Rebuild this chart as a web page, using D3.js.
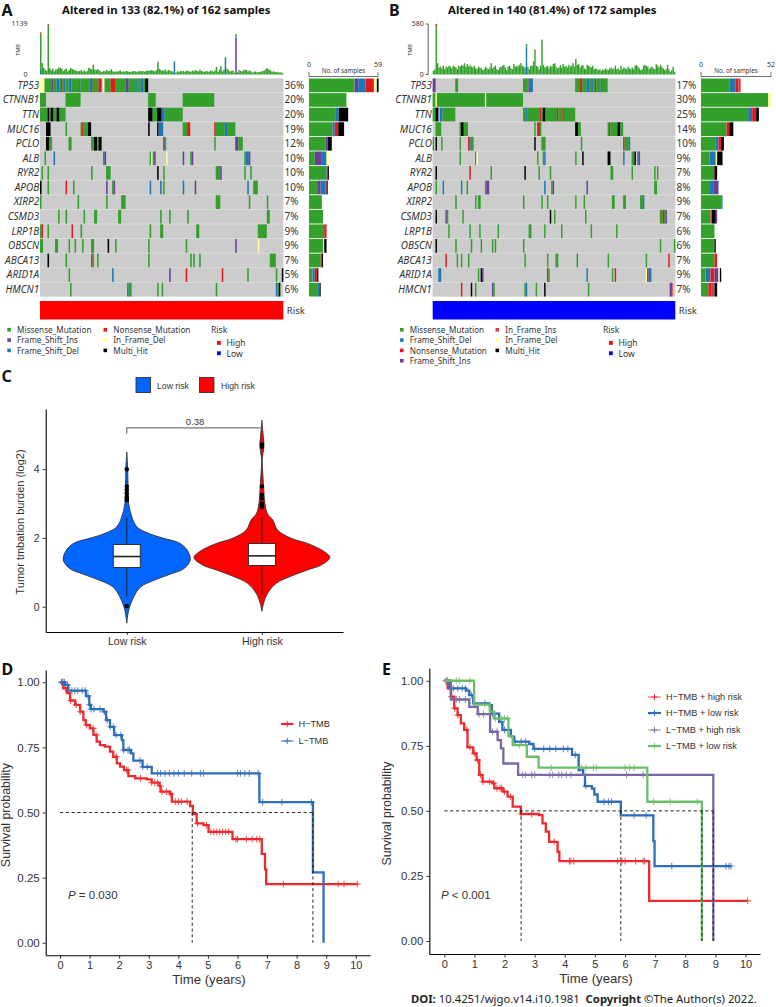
<!DOCTYPE html>
<html>
<head>
<meta charset="utf-8">
<script src="https://cdn.jsdelivr.net/npm/d3@7"></script>
<style>
html,body{margin:0;padding:0;background:#fff;}
svg{display:block;}
text{font-family:"Noto Sans",sans-serif;fill:#333;}
.ar text,text.ar{font-family:"Liberation Sans",Arial,sans-serif;}
</style>
</head>
<body>
<svg id="fig" width="776" height="1007"></svg>
<script>
var genes = ["TP53","CTNNB1","TTN","MUC16","PCLO","ALB","RYR2","APOB","XIRP2","CSMD3","LRP1B","OBSCN","ABCA13","ARID1A","HMCN1"];

// M missense, N nonsense, I frame shift ins, D frame shift del, S in frame ins, F in frame del, H multi hit
var mutColors = {M:"#33A02C",N:"#E31A1C",I:"#6A3D9A",D:"#1F78B4",S:"#D53E4F",F:"#FFFF99",H:"#000000"};

var pctA = ["36%","20%","20%","19%","12%","10%","10%","10%","7%","7%","9%","9%","7%","5%","6%"];
var pctB = ["17%","30%","25%","14%","10%","9%","7%","8%","9%","7%","6%","6%","7%","9%","7%"];

// token = type + first sample, optional -end (exclusive)
var cellsA = [
 "F0-3 M3-8 I8 M9-11 D11-13 M13 N14 M15 D16 M17-19 D19-21 M21-26 D26 M27-33 D33 N34 M35-39 N39-41 F42 M43-47 N47-50 M50-57 I57-59 M59-64 D64 M65-67 D67-69 M69 H70-72",
 "M0-4 M17-27 M72-77 M95-116",
 "M0-5 H5 M6 H7-9 M9-11 H11-13 M13-17 H72-75 M75-78 H78-81 D81-83 M83-95",
 "H4-7 M17 M27 N28 M29-32 H32-34 H72 H78 D79-82 M95-98 N98-100 N116 M117-123 D123-125 M125-130",
 "H4-6 M6-8 M19-21 M34-36 H36-38 M38 H39-41 I82 M83 M116 I130-132 M132-135",
 "M3 D9 D42 I43 M73 F74 M75 I76 F84 I95 M100 I101 M136 D137-139 I139",
 "M1 M5 M34 M44-47 H78 M82 M117-120 I120 M136 M140",
 "H0 M5 N17 M22 I44 M48 I49 D73 D80 M82 D95 I103 D138 M142-145",
 "M0 M25 M44 M54-57 M117-120 M139 M151",
 "M12 M17 M29 M36-38 M52-54 M80 M86 M98 M151-153",
 "M0 N1-2 M5 N21 M27 M73 M80-82 M104-106 M145-151",
 "M0-2 M10-12 M19 M23 M28 M34-36 H45 M50 M72 M97 I130 F145",
 "H5 M17 N34 M35 M38 M72 M100 M102 M106 M153-157",
 "M19 D48 I86 N97 N121 M138 M157 H161",
 "M20 D58 M59-61 M78 M81 M117 D157 M158 H159"
];
var cellsB = [
 "I0-2 M16-18 M64-67 S67 D68-71 M101-104 N104-106 M106-109 D109-111 M111-113 D113 M114 N115 M116-119 D119 M120-124",
 "M0-2 F2 M3-37 F37 M38-64",
 "M0-2 H2-4 D5-7 M7-16 M64-66 D66 M67-76 N76 M77 H78-80 M80-88 N88 M89-92 N92 M93-101",
 "M2-6 M19 H20-22 M22-25 M72 N74-76 M76 H101-103 M103-105 M124 N125 M126-131 H131-133 M133-135",
 "M0 H2 M6 M19 N25 D26 M27-29 H72 M77-80 M105 N135 M136-139 D139",
 "M19 M30 F31 M74 M78 D79 M101 H106 H124-126 D135 M141-143 H143 D145 I146-147",
 "H2 N26 M41 H65 M75 M83 M126-128 M141 M157 M159",
 "M2 D7 D20 M24 M37 I38-40 D79 M84 I85 I109 M157-159",
 "M16 M30 M32-34 M64 M77 M81 M101 M107 M127-129 M135-137 M147-149 D149",
 "H2 I9 M10 M21 H83 M86 M108 M161-163 N163 M164 I165-166",
 "M11 M26 M33 M46 M68-70 M79 M91 M112 M130",
 "H2 M16 M27 M34 M42 M44 M64 M161 M171",
 "N9 M17 M20 M25 M65 M81 M87-89 M102 M124 M151 N167",
 "D4-6 M32 H34 I35 N81 M82 D109 M127 N129 F151 N152 D153-155",
 "N20 H27 M30 I42 M43 M65 D66 M73 H79 M110 I168 N169"
];

// samples per type for the right hand bars
var sideA = ["M39 I3 D6.5 N7 F2.5 H1.5","M32","M23 D2.5 H8","M20 D2 N3 H5","M14 I2 H3.5","M5 I6 D4 F2","M15 I1 H1","M7 I3 D4 N1 H1","M11","M12","M13 N2","M12 F1 H2","M10 N1 H1","M3 D2 N2 H1","M7 D2 H1"];
var sideB = ["M21 D4.5 N2.5 S1.5","M50 F2","M35 D3 N3 H2","M19 N2 H3","M11 D2 N2 H2","M6.5 D4.5 F1 H4","M9 N1 H2","M6 D3 I4","M15 D1","M7 S1 H3 I1","M10","M10 H1","M10 N2","M3.5 D3.5 N3 I3 F1 H1","M5.5 N2.5 S2 H2"];

var tmbA = [950,260,150,110,80,1139,140,90,130,70,
 110,120,160,150,130,80,110,130,70,100,
 150,120,110,90,80,70,80,100,70,90,
 60,80,150,130,120,220,110,100,120,90,
 70,60,80,70,100,70,80,120,70,60,
 70,60,80,90,60,70,60,80,70,60,
 60,70,80,70,60,70,80,70,80,60,
 80,90,80,90,100,80,70,100,290,130,
 100,90,90,110,70,100,90,80,60,300,
 40,70,60,80,70,80,60,90,80,70,
 60,90,70,100,80,70,110,80,70,60,
 80,70,60,90,80,60,90,170,60,110,
 190,70,110,390,130,100,70,80,90,40,
 910,50,100,80,70,90,110,100,70,90,
 70,40,60,70,50,50,60,70,80,90,
 130,140,110,90,60,70,60,50,60,40,
 50,30];
var tmbBaseA = [[0,"D",130],[89,"D",280],[123,"D",350],[130,"I",830]];
var tmbTipA = [[0,"N",30],[1,"N",12],[5,"N",30],[35,"N",25],[78,"N",20]];

var tmbB = [40,60,580,130,80,90,70,100,60,90,
 80,100,90,70,100,90,80,60,100,90,
 110,100,130,90,120,90,110,90,80,100,
 70,60,90,80,70,50,60,90,70,60,
 80,130,70,90,100,60,50,80,90,100,
 110,80,50,90,100,70,60,120,90,100,
 90,110,130,100,90,80,350,90,60,100,
 100,150,285,100,90,60,100,400,110,80,
 90,100,70,100,90,120,130,90,70,80,
 110,80,120,90,100,80,110,90,100,130,
 90,180,110,120,80,100,110,70,60,110,
 100,90,80,100,60,70,60,50,60,40,
 60,50,70,60,50,70,80,60,70,100,
 60,70,50,100,60,80,70,60,90,70,
 60,80,60,100,110,90,70,50,60,100,
 110,100,90,60,80,90,70,60,120,100,
 80,110,90,70,50,60,110,60,30,50,
 90,30];
var tmbBaseB = [[66,"D",320],[77,"D",30]];
var tmbTipB = [[2,"N",25],[23,"N",8],[41,"N",8],[71,"N",10],[72,"N",14],[77,"N",8],[101,"N",8],[144,"N",6],[158,"N",6]];

var legendA = [["M","Missense_Mutation"],["I","Frame_Shift_Ins"],["D","Frame_Shift_Del"],["N","Nonsense_Mutation"],["F","In_Frame_Del"],["H","Multi_Hit"]];
var legendB = [["M","Missense_Mutation"],["D","Frame_Shift_Del"],["N","Nonsense_Mutation"],["I","Frame_Shift_Ins"],["S","In_Frame_Ins"],["F","In_Frame_Del"],["H","Multi_Hit"]];

// panel C, [value, density]
var violinLow = [[-0.48,0],[-0.1,0.03],[0.29,0.11],[0.58,0.22],[0.77,0.43],[0.95,0.69],[1.11,0.9],[1.36,1],[1.65,0.95],[1.86,0.82],[1.99,0.58],[2.15,0.32],[2.32,0.16],[2.61,0.08],[3,0.03],[3.49,0.02],[3.97,0.015],[4.5,0]];
var violinHigh = [[-0.13,0],[0.1,0.025],[0.39,0.084],[0.68,0.21],[0.89,0.43],[1.07,0.67],[1.21,0.87],[1.43,1],[1.6,0.92],[1.84,0.67],[1.99,0.43],[2.23,0.23],[2.52,0.16],[2.71,0.08],[3,0.044],[3.49,0.025],[3.97,0.01],[4.26,0.004],[4.7,0.03],[4.94,0.02],[5.42,0]];
var boxLow = {lo:0.3,q1:1.14,med:1.46,q3:1.81,hi:2.6};
var boxHigh = {lo:0.34,q1:1.2,med:1.48,q3:1.84,hi:2.6};
var outLow = [4,3.5,3.4,3.3,3.2,3.15,3.1,0.02];
var outHigh = [4.72,4.65,3.5,3.25,3.15,3,2.95,2.9];
var riskCats = ["Low risk","High risk"];

// panel D and E, [time, survival]
var dHigh = [[0,1],[0.11,0.977],[0.23,0.958],[0.34,0.93],[0.51,0.913],[0.68,0.887],[0.79,0.855],[0.87,0.836],[1.01,0.823],[1.13,0.798],[1.24,0.772],[1.35,0.759],[1.52,0.753],[1.69,0.734],[1.8,0.714],[1.92,0.689],[2.03,0.676],[2.16,0.663],[2.31,0.64],[2.54,0.631],[2.93,0.627],[3.1,0.615],[3.36,0.602],[3.4,0.58],[3.72,0.571],[3.78,0.542],[4.4,0.525],[4.49,0.494],[4.62,0.458],[4.85,0.452],[5.02,0.426],[5.83,0.398],[6.82,0.341],[6.93,0.282],[6.97,0.225],[10.05,0.225]];
var dLow = [[0,1],[0.17,0.99],[0.28,0.968],[0.88,0.947],[0.99,0.913],[1.04,0.897],[1.47,0.887],[1.56,0.855],[1.69,0.829],[1.83,0.797],[2.09,0.778],[2.14,0.74],[2.4,0.727],[2.48,0.699],[2.79,0.675],[3.1,0.65],[6.74,0.54],[8.55,0.27],[8.91,0],[8.91,0]];
var dHighCens = [0.07,0.18,0.36,0.55,0.68,0.9,1.12,1.22,1.9,2.25,2.3,2.72,3.1,3.2,3.3,3.38,3.45,3.6,3.75,3.9,4,4.1,4.3,4.65,4.95,5.1,5.2,5.3,5.4,5.5,5.6,5.7,5.95,6,6.3,6.5,6.65,6.75,7.55,9.4,9.6,10.05];
var dLowCens = [0.05,0.1,0.15,0.25,0.4,0.5,0.6,0.75,0.85,0.95,1,1.05,1.15,1.35,1.5,1.6,1.7,1.8,1.9,2.05,2.15,2.3,2.35,2.7,2.8,2.95,3.3,3.4,3.55,3.7,3.85,4,4.2,4.45,4.75,4.85,6,6.1,6.25,6.4,6.7,6.85,7.5,8.5];

var eHH = [[0,1],[0.11,0.971],[0.22,0.939],[0.33,0.894],[0.44,0.868],[0.55,0.836],[0.66,0.811],[0.77,0.744],[0.96,0.721],[1.07,0.695],[1.16,0.638],[1.27,0.612],[1.6,0.606],[1.66,0.587],[1.94,0.574],[2.1,0.555],[2.27,0.516],[2.54,0.488],[3.15,0.484],[3.26,0.452],[3.37,0.42],[3.48,0.381],[3.76,0.343],[3.82,0.307],[6.8,0.154],[10.07,0.154]];
var eHL = [[0,1],[0.17,0.971],[0.72,0.962],[0.83,0.945],[0.96,0.913],[1.49,0.906],[1.58,0.874],[1.82,0.842],[1.93,0.811],[2.21,0.785],[2.32,0.766],[2.82,0.757],[2.96,0.738],[4.24,0.715],[4.46,0.657],[4.61,0.638],[4.67,0.595],[4.9,0.586],[4.98,0.563],[5.09,0.535],[5.86,0.483],[6.94,0.384],[6.98,0.288],[9.52,0.288]];
var eLH = [[0,1],[0.22,0.928],[0.83,0.9],[1.11,0.872],[1.52,0.804],[1.77,0.772],[1.88,0.74],[1.96,0.682],[2.45,0.638],[8.93,0],[8.93,0]];
var eLL = [[0,1],[0.99,0.908],[1.51,0.881],[1.66,0.855],[2.13,0.787],[2.27,0.753],[2.74,0.708],[3.13,0.666],[6.74,0.535],[8.55,0],[8.55,0]];
var eHHCens = [0.05,0.25,0.35,0.45,0.75,0.85,1,1.1,1.2,1.28,1.5,1.65,1.75,1.85,1.9,2,2.2,2.55,2.9,3.65,4.15,4.2,4.3,5.75,5.9,6,6.35,6.6,6.65,10.07];
var eHLCens = [0.1,0.3,0.45,0.6,0.7,0.9,1.35,1.6,1.9,2,2.35,2.55,2.7,3,3.3,3.5,3.7,3.95,4.1,4.35,4.7,5.3,5.45,5.55,6.3,6.7,7.55,9.35,9.45,9.52];
var eLHCens = [0.4,0.5,0.7,1.15,1.3,1.6,1.75,2.6,2.7,2.9,3,3.5,3.6,3.8,3.9,4.05,4.2,6.05,6.6];
var eLLCens = [0.4,0.5,0.85,1.7,1.9,2,2.1,2.5,3.55,4.55,4.7,4.95,5.05,6,6.15,6.3,6.95,7.5,8.4];

var timeTicks = [0,1,2,3,4,5,6,7,8,9,10];
var survTicks = [0,0.25,0.5,0.75,1];

var svg = d3.select("#fig");

function parseTokens(s){
    return s.split(" ").map(function(t){
        var m = t.match(/^([A-Z])([\d.]+)(?:-(\d+))?$/);
        return {type:m[1], a:+m[2], b:m[3] ? +m[3] : +m[2] + 1};
    });
}

function drawOnco(p){
    var g = svg.append("g");
    var n = p.tmb.length;
    var x = d3.scaleBand().domain(d3.range(n)).range([p.x0,p.x1]);
    var rowY = d3.scaleBand().domain(genes).range([78.5,296.5]).paddingInner(0.06);

    g.append("text").attr("x",p.titleX).attr("y",14).attr("font-size",11.4).attr("font-weight","bold")
        .style("fill","#111").text(p.title);

    // tmb bars
    var tmbY = d3.scaleLinear().domain([0,p.tmbMax]).range([74.5,24]);
    var base = new Map(p.tmbBase.map(function(d){return [d[0],d];}));
    var tip = new Map(p.tmbTip.map(function(d){return [d[0],d];}));
    p.tmb.forEach(function(v,i){
        var b = base.has(i) ? base.get(i)[2] : 0;
        var t = tip.has(i) ? tip.get(i)[2] : 0;
        var parts = [];
        if(b) parts.push({type:base.get(i)[1],y0:0,y1:b});
        parts.push({type:"M",y0:b,y1:v-t});
        if(t) parts.push({type:tip.get(i)[1],y0:v-t,y1:v});
        g.selectAll(null).data(parts).enter().append("rect")
            .attr("x",x(i))
            .attr("width",x.bandwidth())
            .attr("y",function(d){return tmbY(d.y1)})
            .attr("height",function(d){return tmbY(d.y0)-tmbY(d.y1)})
            .attr("fill",function(d){return mutColors[d.type]});
    });
    if(p.tmbAxis){
        g.append("path").attr("d","M"+(p.x0-7)+","+tmbY(p.tmbMax)+"H"+(p.x0-4.5)+"V"+tmbY(0)+"H"+(p.x0-7))
            .attr("fill","none").attr("stroke","#333").attr("stroke-width",0.8);
    }
    g.selectAll(null).data([0,p.tmbMax]).enter().append("text")
        .attr("x",p.x0-(p.tmbAxis?9:12.5)).attr("y",function(d){return tmbY(d)+2.4})
        .attr("text-anchor","end").attr("font-size",7).text(function(d){return d});
    g.append("text").attr("transform","translate("+p.tmbLabelX+",50) rotate(-90)")
        .attr("text-anchor","middle").attr("font-size",5.5).text("TMB");

    // grey matrix, then the altered cells
    g.append("rect").attr("x",p.x0).attr("y",78.5).attr("width",p.x1-p.x0).attr("height",218).attr("fill","#DEDEDE");
    genes.forEach(function(gene,r){
        g.append("rect").attr("x",p.x0).attr("y",rowY(gene))
            .attr("width",p.x1-p.x0).attr("height",rowY.bandwidth())
            .attr("fill","#CCCCCC");
        g.selectAll(null).data(parseTokens(p.cells[r])).enter().append("rect")
            .attr("x",function(d){return x(d.a)}).attr("y",rowY(gene))
            .attr("width",function(d){return x.step()*(d.b-d.a)+0.05}).attr("height",rowY.bandwidth())
            .attr("fill",function(d){return mutColors[d.type]});
    });
    g.selectAll(null).data(genes).enter().append("text")
        .attr("x",p.x0-0.8).attr("y",function(d){return rowY(d)+rowY.bandwidth()/2+3.4})
        .attr("text-anchor","end").attr("font-size",10).attr("font-style","italic").text(function(d){return d});
    g.selectAll(null).data(p.pct).enter().append("text")
        .attr("x",p.x1+1.2).attr("y",function(d,i){return rowY(genes[i])+rowY.bandwidth()/2+3.4})
        .attr("font-size",10).text(function(d){return d});

    // side bars
    var sx = d3.scaleLinear().domain([0,p.sideMax]).range([p.sx0,p.sx1]);
    p.side.forEach(function(s,r){
        var acc = 0;
        var parts = parseTokens(s).map(function(t){
            var o = {type:t.type,a:acc,b:acc+t.a}; acc += t.a; return o;
        });
        g.selectAll(null).data(parts).enter().append("rect")
            .attr("x",function(d){return sx(d.a)}).attr("y",rowY(genes[r]))
            .attr("width",function(d){return sx(d.b)-sx(d.a)}).attr("height",rowY.bandwidth())
            .attr("fill",function(d){return mutColors[d.type]});
    });
    g.append("path").attr("d","M"+sx(0)+",72V76.5H"+sx(p.sideMax)+"V72").attr("fill","none").attr("stroke","#333").attr("stroke-width",0.7);
    g.selectAll(null).data([0,p.sideMax]).enter().append("text")
        .attr("x",function(d){return sx(d)}).attr("y",66.5).attr("text-anchor","middle").attr("font-size",7)
        .text(function(d){return d});
    g.append("text").attr("x",(p.sx0+p.sx1)/2).attr("y",73).attr("text-anchor","middle").attr("font-size",6.2).text("No. of samples");

    // risk strip
    g.append("rect").attr("x",p.x0).attr("y",301).attr("width",p.x1-p.x0).attr("height",18.5).attr("fill",p.riskColor);
    g.append("text").attr("x",p.x1+3.5).attr("y",313.5).attr("font-size",9.5).text("Risk");

    // legends
    var perCol = p.legendCol;
    g.selectAll(null).data(p.legend).enter().append("rect")
        .attr("x",function(d,i){return i<perCol ? p.legX1 : p.legX2})
        .attr("y",function(d,i){return 328+(i<perCol ? i : i-perCol)*10.3})
        .attr("width",3.6).attr("height",3.6).attr("fill",function(d){return mutColors[d[0]]});
    g.selectAll(null).data(p.legend).enter().append("text")
        .attr("x",function(d,i){return (i<perCol ? p.legX1 : p.legX2)+9.8})
        .attr("y",function(d,i){return 333+(i<perCol ? i : i-perCol)*10.3})
        .attr("font-size",8.2).text(function(d){return d[1]});
    g.append("text").attr("x",p.riskX).attr("y",332.5).attr("font-size",8.6).text("Risk");
    g.selectAll(null).data([["High","#FF0000"],["Low","#0000FF"]]).enter().append("rect")
        .attr("x",p.riskX+6).attr("y",function(d,i){return 341+i*10.3}).attr("width",3.8).attr("height",3.8)
        .attr("fill",function(d){return d[1]});
    g.selectAll(null).data(["High","Low"]).enter().append("text")
        .attr("x",p.riskX+15.5).attr("y",function(d,i){return 346.3+i*10.3}).attr("font-size",8.6).text(function(d){return d});
}

drawOnco({title:"Altered in 133 (82.1%) of 162 samples",titleX:62,x0:40,x1:283.3,tmb:tmbA,tmbBase:tmbBaseA,tmbTip:tmbTipA,tmbMax:1139,
    tmbAxis:false,tmbLabelX:19.5,cells:cellsA,pct:pctA,side:sideA,sideMax:59,sx0:309,sx1:378,riskColor:"#FF0000",
    legend:legendA,legendCol:3,legX1:7.3,legX2:103.5,riskX:211});
drawOnco({title:"Altered in 140 (81.4%) of 172 samples",titleX:448,x0:432.7,x1:675.3,tmb:tmbB,tmbBase:tmbBaseB,tmbTip:tmbTipB,tmbMax:580,
    tmbAxis:true,tmbLabelX:412,cells:cellsB,pct:pctB,side:sideB,sideMax:52,sx0:701,sx1:771,riskColor:"#0000FF",
    legend:legendB,legendCol:4,legX1:400,legX2:495.5,riskX:603});

// panel labels
svg.selectAll(null).data([["A",1.5,15.5],["B",389,15.5],["C",1.5,382],["D",1.5,675],["E",382,675]]).enter().append("text")
    .attr("x",function(d){return d[1]}).attr("y",function(d){return d[2]})
    .attr("font-size",16).attr("font-weight","bold").style("fill","#111").text(function(d){return d[0]});

function styleAxis(a,size){
    a.attr("class","ar");
    a.selectAll("path").attr("stroke","#000").attr("stroke-width",1.1);
    a.selectAll("line").attr("stroke","#000").attr("stroke-width",0.8);
    a.selectAll("text").attr("font-size",size).style("fill","#333");
}

// panel C
(function(){
    var g = svg.append("g");
    var x = d3.scalePoint().domain(riskCats).range([45.7,343]).padding(0.6);
    var y = d3.scaleLinear().domain([-0.735,5.75]).range([632,409]);
    var groups = [
        {cat:riskCats[0],v:violinLow,box:boxLow,out:outLow,color:"#0066FF",half:63.5},
        {cat:riskCats[1],v:violinHigh,box:boxHigh,out:outHigh,color:"#FF0000",half:68}
    ];
    groups.forEach(function(d){
        var cx = x(d.cat);
        var area = d3.area().curve(d3.curveCatmullRom)
            .y(function(p){return y(p[0])})
            .x0(function(p){return cx-p[1]*d.half})
            .x1(function(p){return cx+p[1]*d.half});
        g.append("path").datum(d.v).attr("d",area).attr("fill",d.color).attr("stroke","#333").attr("stroke-width",0.9);
        g.append("line").attr("x1",cx).attr("x2",cx).attr("y1",y(d.box.lo)).attr("y2",y(d.box.hi)).attr("stroke","#222").attr("stroke-width",1);
        g.selectAll(null).data(d.out).enter().append("circle")
            .attr("cx",cx).attr("cy",function(v){return y(v)}).attr("r",2.2).attr("fill","#000");
        g.append("rect").attr("x",cx-13.5).attr("width",27).attr("y",y(d.box.q3)).attr("height",y(d.box.q1)-y(d.box.q3))
            .attr("fill","#fff").attr("stroke","#222").attr("stroke-width",0.9);
        g.append("line").attr("x1",cx-13.5).attr("x2",cx+13.5).attr("y1",y(d.box.med)).attr("y2",y(d.box.med)).attr("stroke","#222").attr("stroke-width",1.6);
    });
    var ax = g.append("g").attr("transform","translate(0,632)").call(d3.axisBottom(x).tickSize(3).tickSizeOuter(0));
    styleAxis(ax,10.5);
    var ay = g.append("g").attr("transform","translate(45.7,0)").call(d3.axisLeft(y).tickValues([0,2,4]).tickFormat(d3.format("d")).tickSize(3).tickSizeOuter(0));
    styleAxis(ay,10.5);
    g.append("text").attr("class","ar").attr("transform","translate(24,522) rotate(-90)").attr("text-anchor","middle")
        .attr("font-size",11).text("Tumor tmbation burden (log2)");
    g.append("path").attr("d","M"+x(riskCats[0])+","+y(5.03)+"V"+y(5.2)+"H"+x(riskCats[1]))
        .attr("fill","none").attr("stroke","#777").attr("stroke-width",1.2);
    g.append("text").attr("class","ar").attr("x",195).attr("y",424.5).attr("text-anchor","middle").attr("font-size",9.5).text("0.38");
    g.selectAll(null).data([["#0066FF",136,"Low risk"],["#FF0000",199.5,"High risk"]]).enter().append("rect")
        .attr("x",function(d){return d[1]}).attr("y",377.5).attr("width",14.5).attr("height",15)
        .attr("fill",function(d){return d[0]}).attr("stroke","#333").attr("stroke-width",0.9);
    g.selectAll(null).data([[157,"Low risk"],[221,"High risk"]]).enter().append("text").attr("class","ar")
        .attr("x",function(d){return d[0]}).attr("y",388.5).attr("font-size",8.7).text(function(d){return d[1]});
})();

// panels D and E
function survAt(curve,t){
    var i = d3.bisectRight(curve.map(function(d){return d[0]}),t);
    return curve[Math.max(0,i-1)][1];
}

function drawKM(p){
    var g = svg.append("g");
    var x = d3.scaleLinear().domain(p.xd).range(p.xr);
    var y = d3.scaleLinear().domain(p.yd).range(p.yr);
    var line = d3.line().curve(d3.curveStepAfter).x(function(d){return x(d[0])}).y(function(d){return y(d[1])});
    p.series.forEach(function(s){
        g.append("path").datum(s.curve).attr("d",line).attr("fill","none").attr("stroke",s.color).attr("stroke-width",2.3);
        g.selectAll(null).data(s.cens).enter().append("path")
            .attr("transform",function(t){return "translate("+x(t)+","+y(survAt(s.curve,t))+")"})
            .attr("d","M-3.4,0H3.4M0,-3.4V3.4").attr("stroke",s.color).attr("stroke-width",1.1).attr("fill","none").attr("opacity",0.75);
    });
    g.append("line").attr("x1",x(0)).attr("x2",x(p.hEnd)).attr("y1",y(0.5)).attr("y2",y(0.5))
        .attr("stroke","#111").attr("stroke-width",0.9).attr("stroke-dasharray","3.2,2.6");
    g.selectAll(null).data(p.medians).enter().append("line")
        .attr("x1",function(d){return x(d)}).attr("x2",function(d){return x(d)})
        .attr("y1",y(0.5)).attr("y2",y(0))
        .attr("stroke","#111").attr("stroke-width",0.9).attr("stroke-dasharray","3.2,2.6");

    var ax = g.append("g").attr("transform","translate(0,"+p.yr[0]+")").call(d3.axisBottom(x).tickValues(timeTicks).tickFormat(d3.format("d")).tickSize(3).tickSizeOuter(0));
    styleAxis(ax,11);
    var ay = g.append("g").attr("transform","translate("+p.xr[0]+",0)").call(d3.axisLeft(y).tickValues(survTicks).tickFormat(d3.format(".2f")).tickSize(3).tickSizeOuter(0));
    styleAxis(ay,11.5);
    ax.selectAll("line").attr("y2",3.5);

    g.append("text").attr("class","ar").attr("x",p.titleX).attr("y",p.yr[0]+29).attr("text-anchor","middle")
        .attr("font-size",13.2).text("Time (years)");
    g.append("text").attr("class","ar").attr("transform","translate("+p.yTitleX+","+y(0.49)+") rotate(-90)")
        .attr("text-anchor","middle").attr("font-size",12.4).text("Survival probability");

    var pt = g.append("text").attr("class","ar").attr("x",p.pX).attr("y",899).attr("font-size",11.5);
    pt.append("tspan").attr("font-style","italic").text("P");
    pt.append("tspan").text(p.pText);

    p.series.forEach(function(s,i){
        var ly = p.legY[i];
        g.append("line").attr("x1",p.legX).attr("x2",p.legX+p.legLen).attr("y1",ly).attr("y2",ly)
            .attr("stroke",s.color).attr("stroke-width",s.legW);
        g.append("path").attr("transform","translate("+(p.legX+p.legLen/2)+","+ly+")")
            .attr("d","M-3.2,0H3.2M0,-3.2V3.2").attr("stroke",s.color).attr("stroke-width",0.9);
        g.append("text").attr("class","ar").attr("x",p.legX+p.legLen+5).attr("y",ly+3.2).attr("font-size",9.2).text(s.name);
    });
}

drawKM({xd:[-0.484,10.48],xr:[45.7,370],yd:[-0.048,1.047],yr:[955.3,670],hEnd:8.55,medians:[4.47,8.55],
    titleX:209,yTitleX:10,pX:68,pText:" = 0.030",legX:281,legLen:12.5,legY:[724,741],
    series:[{name:"H\u2212TMB",color:"#EE2A2E",curve:dHigh,cens:dHighCens,legW:2.2},
            {name:"L\u2212TMB",color:"#2F6DB8",curve:dLow,cens:dLowCens,legW:1}]});
drawKM({xd:[-0.498,10.48],xr:[429.3,760],yd:[-0.05,1.049],yr:[954,668],hEnd:8.93,medians:[2.55,5.86,8.55,8.93],
    titleX:596,yTitleX:391,pX:441,pText:" < 0.001",legX:648,legLen:13,legY:[697,713,730,746],
    series:[{name:"H\u2212TMB + high risk",color:"#EE2A2E",curve:eHH,cens:eHHCens,legW:0.8},
            {name:"H\u2212TMB + low risk",color:"#2F6DB8",curve:eHL,cens:eHLCens,legW:2.2},
            {name:"L\u2212TMB + high risk",color:"#7A68A6",curve:eLH,cens:eLHCens,legW:0.8},
            {name:"L\u2212TMB + low risk",color:"#6CBF6A",curve:eLL,cens:eLLCens,legW:2.2}]});

// footer
var foot = svg.append("text").attr("x",411).attr("y",1003).attr("font-size",11.3).style("fill","#222").style("white-space","pre");
foot.append("tspan").attr("font-weight","bold").text("DOI:");
foot.append("tspan").text(" 10.4251/wjgo.v14.i10.1981  ");
foot.append("tspan").attr("font-weight","bold").text("Copyright");
foot.append("tspan").text(" \u00A9The Author(s) 2022.");
</script>
</body>
</html>
